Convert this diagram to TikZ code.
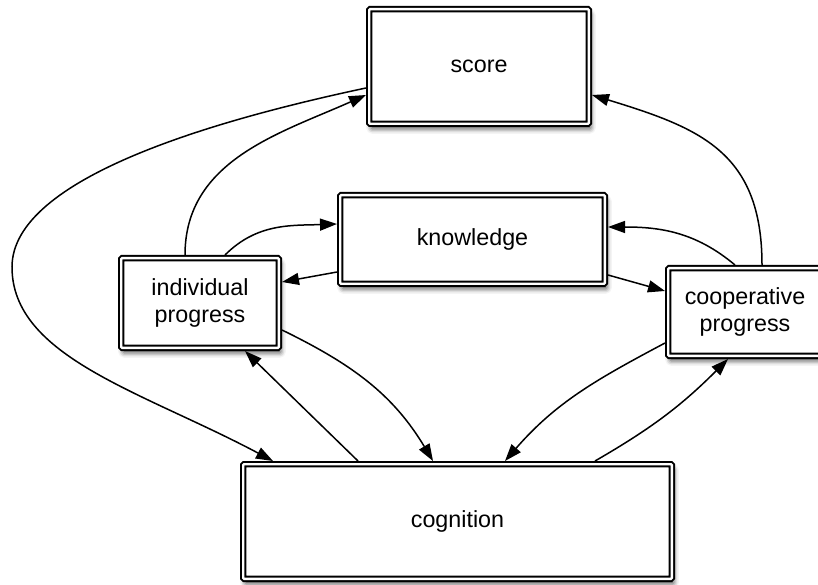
\documentclass[tikz,border=0pt]{standalone}
\usepackage{fontspec}
\setmainfont{Liberation Sans}
\usetikzlibrary{arrows.meta,shadows.blur}
\begin{document}
\begin{tikzpicture}[x=1pt,y=1pt,
  box/.style={draw=black, line width=2pt, double=white, double distance=2.3pt,
    fill=white, rounded corners=1pt, inner sep=0pt, outer sep=3.15pt, align=center,
    font=\fontsize{23.3}{27.5}\selectfont,
    blur shadow={shadow xshift=2pt, shadow yshift=-5pt, shadow blur radius=5pt, shadow opacity=70}},
  arr/.style={line width=1.5pt, -{Triangle[length=17pt,width=12pt]}}]
\useasboundingbox (0,0) rectangle (818,584);
\clip (0,0) rectangle (818,584);
\node[box, minimum width=219.7pt, minimum height=114.7pt] (score) at (479,517.5) {score};
\node[box, minimum width=264.7pt, minimum height=88.7pt] (know) at (472.5,344.5) {knowledge};
\node[box, minimum width=157.7pt, minimum height=89.7pt] (ind) at (200,281) {individual\\progress};
\node[box, minimum width=153.7pt, minimum height=87.7pt] (coop) at (745,272) {cooperative\\progress};
\node[box, minimum width=428.7pt, minimum height=114.7pt] (cog) at (457.5,62.5) {cognition};
\coordinate (lp) at (12,317);
\draw[arr] ([yshift=-21.5pt]score.west) .. controls +(192:150) and +(90:90) .. (lp) .. controls +(-90:90) and +(152:148) .. ([xshift=-184.5pt]cog.north);
\draw[arr] ([xshift=-15pt]ind.north) to[out=90,in=204] ([yshift=-28.5pt]score.west);
\draw[arr] ([xshift=25pt]ind.north) to[out=45,in=182] ([yshift=15.5pt]know.west);
\draw[arr] ([yshift=-32.5pt]know.west) -- ([yshift=21pt]ind.east);
\draw[arr] ([yshift=-27pt]ind.east) to[out=-26,in=121] ([xshift=-24.5pt]cog.north);
\draw[arr] ([xshift=-99.5pt]cog.north) -- ([xshift=45pt]ind.south);
\draw[arr] ([yshift=-31pt]coop.west) to[out=208,in=49] ([xshift=47.5pt]cog.north);
\draw[arr] ([xshift=137.5pt]cog.north) to[out=30,in=225] ([xshift=-17pt]coop.south);
\draw[arr] ([yshift=-35.5pt]know.east) -- ([yshift=21pt]coop.west);
\draw[arr] ([xshift=-10pt]coop.north) to[out=140,in=0] ([yshift=12.5pt]know.east);
\draw[arr] ([xshift=17pt]coop.north) to[out=90,in=-17,looseness=1.2] ([yshift=-28.5pt]score.east);
\end{tikzpicture}
\end{document}
